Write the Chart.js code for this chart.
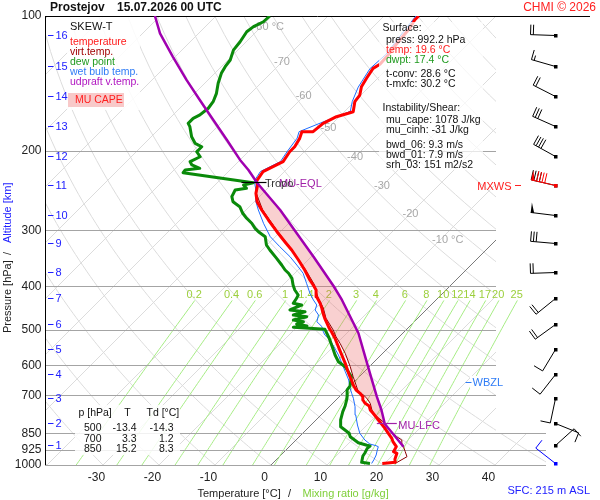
<!DOCTYPE html>
<html>
<head>
<meta charset="utf-8">
<script src="https://cdn.jsdelivr.net/npm/chart.js@4.4.1/dist/chart.umd.min.js"></script>
<style>html,body{margin:0;padding:0;background:#fff}canvas{display:block}</style>
</head>
<body>
<canvas id="c" width="600" height="500"></canvas>
<script>
// sounding Prostejov 15.07.2026 00 UTC
const tempP = [992.2,986,971,942,934,910,887,872,850,828.5,800.9,767.1,754.2,738.9,728.8,716.5,704.5,692.3,680.7,663.5,646.7,630.3,614.4,593.6,568.9,545.1,522.2,504.8,496.1,483.5,471.3,459.3,447.7,436.4,421.9,407.6,397.3,387.2,367.9,349.5,332.0,318.2,302.3,284.7,270.4,259.2,248.3,237.9,233.1,222.2,216.6,211.1,200.6,195.5,187.3,181.0,181.0,173.4,167.6,164.7,163.4,155.2,150.0,143.7,137.6,130.8,128.1,122.1,118.0,113.1,106.5,102.1,100];
const tempT = [19.6,21.7,21.1,20.4,19.5,19.1,17.6,16.8,15.3,13.8,11.7,9.0,7.9,7.0,5.8,4.8,4.2,3.1,1.8,0.4,-0.8,-2.1,-3.3,-4.9,-7.0,-9.1,-11.2,-13.0,-14.0,-15.3,-16.6,-17.8,-18.9,-20.1,-21.9,-23.2,-24.6,-26.1,-28.8,-31.7,-34.7,-37.4,-40.6,-44.2,-47.2,-49.5,-51.2,-52.4,-53.3,-53.8,-52.9,-52.0,-52.6,-52.6,-53.2,-54.0,-52.0,-51.7,-50.5,-49.0,-48.4,-49.9,-50.2,-51.4,-52.0,-52.6,-52.1,-52.3,-52.6,-52.9,-53.2,-53.8,-53.8];

const dewP = [992.2,986.2,954.9,938.9,917.9,907.2,903.9,891.9,865.0,850,821.7,793.9,760.8,738.9,716.5,700,680.7,666.9,635.9,604.1,588.8,568.9,549.7,521.4,498.6,493.5,490.2,485.2,479.6,475.4,467.4,463.4,455.6,451.6,440.2,436.4,425.3,418.2,407.6,397.3,383.9,374.1,367.9,358.6,346.5,332.0,323.6,310.1,302.3,297.1,289.5,282.2,275.0,265.9,259.2,252.6,244.1,241.9,237.9,235.1,223.3,220.3,218.4,214.7,211.1,205.8,200.6,195.5,192.1,185.7,176.4,173.4,169.0,166.1,160.5,155.2,148.7,141.2,134.2,129.7,125.3,119.1,114.1,108.4,105.6,103.0,100];
const dewT = [17.4,15.7,14.8,14.6,14.2,14.3,13.6,11.6,9.1,8.3,5.6,4.4,3.3,2.7,1.9,1.2,0.2,0.0,-1.4,-4.3,-6.4,-8.2,-9.8,-12.3,-14.6,-20.6,-18.4,-20.6,-19.8,-21.9,-20.1,-22.8,-21.3,-24.3,-23.1,-24.9,-25.2,-25.5,-27.0,-28.2,-29.6,-31.1,-32.3,-33.8,-35.9,-38.6,-40.1,-41.8,-43.9,-45.1,-46.6,-48.4,-50.0,-51.7,-53.8,-54.9,-55.5,-53.8,-54.9,-53.6,-67.9,-68.0,-65.7,-67.7,-68.6,-67.7,-69.2,-69.2,-71.0,-72.8,-74.9,-75.8,-75.8,-75.2,-74.9,-75.2,-76.1,-77.6,-78.8,-79.3,-79.6,-80.8,-81.1,-81.7,-81.4,-80.5,-80.4];

const virtP = [992.2,958.3,934.1,910.5,894.7,879.7,865.0,835.7,800.9,773.8,754.2,728.8,710.3,698.4,686.7,663.5,635.9,604.1,563.9,535.8,517.9,500.4,471,447,422,397,368,332,302,270,248,236];
const virtT = [21.9,22.8,21.6,20.4,19.5,18.9,17.4,15.0,12.3,9.6,8.2,6.7,5.2,4.0,2.5,0.9,-1.1,-3.4,-6.7,-9.4,-11.3,-13.0,-16.4,-18.7,-21.7,-24.4,-28.6,-34.6,-40.5,-47.1,-51.2,-52.5];

const wetP = [992.2,971.2,950,926,910.5,905.7,897.9,879.7,850,814.6,773.8,741.6,710.3,692.3,671.3,646.7,619.7,593.6,568.9,545.1,526.8,513.4,500.4,491.9,479.6,463.4,451.6,440.2,429.0,414.6,393.8,374.1,358.6,343.6,326.5,310.1,289.5,270.4,259.2,244.1,233,222,211,200,187,181,173,165,163,155,144,131,122,113,100];
const wetT = [17.7,17.4,17.0,16.3,15.9,15.3,13.9,12.3,10.2,8.3,6.2,4.6,2.8,1.6,0.2,-1.3,-3.4,-5.5,-7.6,-9.9,-11.8,-13.6,-14.9,-15.6,-17.4,-18.3,-19.8,-20.4,-21.9,-23.7,-26.1,-28.5,-31.1,-33.8,-37.4,-40.9,-44.5,-47.8,-49.7,-51.8,-53.7,-54.3,-52.5,-53.1,-53.7,-54.5,-52.2,-49.6,-49.0,-50.4,-51.9,-53.1,-52.8,-53.4,-54.3];

// most unstable parcel (virtual temperature)
const parcelP = [910.5,857.4,810.3,754.2,704.5,624.8,563.9,508.9,429.0,399.3,343.6,298.6,270.4,235.1,220.3,209.2,188.9,170.5,153.8,138.9,123.3,109.3,100];
const parcelT = [20.4,16.6,13.0,9.9,6.7,1.3,-3.3,-7.9,-16.8,-20.8,-29.6,-38.0,-43.9,-52.9,-56.7,-60.0,-65.9,-71.9,-77.9,-83.8,-90.4,-96.9,-100.9];
const lfcP = 810.3, eqlP = 235.1, tropoP = 233.1, tropoT = -53.3, wbzlP = 655;

// altitude marks [km] and the wind at each of them
const altKm = [16,15,14,13,12,11,10,9,8,7,6,5,4,3,2,1];
const altP = [110.5,129.2,150.7,175.6,204.6,238.5,278,321,372.5,425.5,486,552.5,628,709.2,805,904];
const windDir = [272,286,297,294,299,283,277,275,268,231,234,211,218,192,112,48];
const windSpd = [20,15,20,30,40,40,50,30,20,20,20,10,10,10,10,10];
const sfcWind = {p: 992.2, dir: 308, spd: 10};
const mxws = {p: 238.5, dir: 283, spd: 90};

const pressTicks = [100,200,300,400,500,600,700,850,925,1000];
const tempTicks = [-30,-20,-10,0,10,20,30,40];
const mixRatios = [0.2,0.4,0.6,1,1.4,2,3,4,6,8,10,12,14,17,20,25];
const mixLabels = ['0.2','0.4','0.6','1','1.4','2','3','4','6','8','10','12','14','17','20','25'];
const isoLabT = [-80,-70,-60,-50,-40,-30,-20,-10];
const isoLabP = [106,126.6,151,177.2,206,239.1,275.3,315.3];

const tabP = [500,700,850];
const tabT = [-13.4,3.3,15.2];
const tabTd = [-14.3,1.2,8.3];

const SKEW = 34.82;      // degC added per unit of ln(1000/p)
const PANEL_R = 496;     // right edge of the upper part of the diagram
const F = '"Liberation Sans", Arial, sans-serif';

function skew(p, t) { return t + SKEW * Math.log(1000 / p); }
function pts(P, T) { return P.map((p, i) => ({x: skew(p, T[i]), y: p})); }
function satT(w, p) {
    const e = w * p / (622 + w);
    const l = Math.log(e / 6.112);
    return 243.5 * l / (17.67 - l);
}

function txt(ctx, s, x, y, col, font, align) {
    ctx.fillStyle = col;
    ctx.font = font || ('10.5px ' + F);
    ctx.textAlign = align || 'left';
    ctx.textBaseline = 'middle';
    ctx.fillText(s, x, y);
}

function barb(ctx, x0, y0, dir, spd, col) {
    const r = dir * Math.PI / 180;
    const ux = Math.sin(r), uy = -Math.cos(r);
    const fx = -uy, fy = ux;
    const L = 25;
    ctx.strokeStyle = col;
    ctx.fillStyle = col;
    ctx.lineWidth = 1;
    ctx.beginPath();
    ctx.moveTo(x0, y0);
    ctx.lineTo(x0 + ux * L, y0 + uy * L);
    ctx.stroke();
    ctx.fillRect(x0 - 1.5, y0 - 1.5, 3.5, 3.5);
    let s = L, v = Math.round(spd / 5) * 5;
    while (v >= 50) {
        ctx.beginPath();
        ctx.moveTo(x0 + ux * s, y0 + uy * s);
        ctx.lineTo(x0 + ux * s + fx * 10, y0 + uy * s + fy * 10);
        ctx.lineTo(x0 + ux * (s - 3.5), y0 + uy * (s - 3.5));
        ctx.closePath();
        ctx.fill();
        s -= 5.5; v -= 50;
    }
    while (v >= 10) {
        ctx.beginPath();
        ctx.moveTo(x0 + ux * s, y0 + uy * s);
        ctx.lineTo(x0 + ux * s + fx * 10, y0 + uy * s + fy * 10);
        ctx.stroke();
        s -= 2.8; v -= 10;
    }
    if (v >= 5) {
        if (s === L) s -= 2.8;
        ctx.beginPath();
        ctx.moveTo(x0 + ux * s, y0 + uy * s);
        ctx.lineTo(x0 + ux * s + fx * 5, y0 + uy * s + fy * 5);
        ctx.stroke();
    }
}

// background: isotherms, dry adiabats, isobars, mixing ratio lines, CAPE area
const gridPlugin = {
    id: 'skewGrid',
    beforeDatasetsDraw(chart) {
        const {ctx, chartArea: a, scales} = chart;
        const xs = scales.x, ys = scales.y;
        const X = (p, t) => xs.getPixelForValue(skew(p, t));
        const Y = p => ys.getPixelForValue(p);
        const yLow = Y(850);

        ctx.save();
        ctx.beginPath();
        ctx.rect(a.left, a.top, PANEL_R - a.left, a.bottom - a.top);
        ctx.rect(PANEL_R, yLow, a.right - PANEL_R, a.bottom - yLow);
        ctx.clip();
        ctx.lineWidth = 1;
        ctx.strokeStyle = '#dcdcdc';
        for (let t = -140; t <= 50; t += 10) {
            ctx.beginPath();
            ctx.moveTo(X(1000, t), Y(1000));
            ctx.lineTo(X(100, t), Y(100));
            ctx.stroke();
        }
        for (let th = -40; th <= 180; th += 10) {
            ctx.beginPath();
            for (let p = 1000; p >= 100; p -= 10) {
                const t = (th + 273.15) * Math.pow(p / 1000, 0.2857) - 273.15;
                if (p === 1000) ctx.moveTo(X(p, t), Y(p)); else ctx.lineTo(X(p, t), Y(p));
            }
            ctx.stroke();
        }
        ctx.strokeStyle = '#7a7a7a';
        ctx.beginPath();
        ctx.moveTo(X(1000, 0), Y(1000));
        ctx.lineTo(X(100, 0), Y(100));
        ctx.stroke();
        ctx.restore();

        // isotherm labels
        isoLabT.forEach((t, i) => {
            const x = X(isoLabP[i], t), y = Y(isoLabP[i]);
            ctx.font = '11px ' + F;
            const w = ctx.measureText(String(t)).width;
            const s = (t === -80 || t === -10) ? t + ' \u00b0C' : String(t);
            txt(ctx, s, x - w / 2, y, '#a8a8a8', '11px ' + F);
        });

        // mixing ratio lines
        ctx.save();
        ctx.beginPath();
        ctx.rect(a.left, a.top, a.right - a.left, a.bottom - a.top);
        ctx.clip();
        ctx.strokeStyle = '#a6ec84';
        ctx.lineWidth = 1;
        mixRatios.forEach((w, i) => {
            ctx.beginPath();
            for (let p = 1000; p >= 429; p -= 9.5) {
                const t = satT(w, p);
                if (p === 1000) ctx.moveTo(X(p, t), Y(p)); else ctx.lineTo(X(p, t), Y(p));
            }
            ctx.stroke();
            txt(ctx, mixLabels[i], X(429, satT(w, 429)) - 1, Y(418), '#9ccf3c', '11px ' + F, 'center');
        });
        ctx.restore();

        // isobars
        ctx.strokeStyle = '#a4a4a4';
        ctx.lineWidth = 1;
        pressTicks.forEach(p => {
            if (p === 100) return;
            const y = Math.round(Y(p)) + 0.5;
            ctx.beginPath();
            ctx.moveTo(a.left, y);
            ctx.lineTo(p >= 850 ? a.right : PANEL_R, y);
            ctx.stroke();
        });
        ctx.strokeStyle = '#000';
        ctx.beginPath();
        ctx.moveTo(a.left, Math.round(Y(100)) + 0.5);
        ctx.lineTo(590, Math.round(Y(100)) + 0.5);
        ctx.moveTo(a.left + 0.5, a.top);
        ctx.lineTo(a.left + 0.5, a.bottom);
        ctx.stroke();

        // MU CAPE area between the parcel and the environment
        const env = [];
        virtP.forEach((p, i) => { if (p >= 500 && p < lfcP) env.push([p, virtT[i]]); });
        tempP.forEach((p, i) => { if (p < 500 && p > eqlP) env.push([p, tempT[i]]); });
        env.sort((m, n) => m[0] - n[0]);
        ctx.fillStyle = 'rgba(235,100,100,0.3)';
        ctx.beginPath();
        let first = true;
        parcelP.forEach((p, i) => {
            if (p <= lfcP && p >= eqlP) {
                const x = X(p, parcelT[i]), y = Y(p);
                if (first) { ctx.moveTo(x, y); first = false; } else ctx.lineTo(x, y);
            }
        });
        env.forEach(([p, t]) => ctx.lineTo(X(p, t), Y(p)));
        ctx.closePath();
        ctx.fill();
    }
};

// boxes, labels, axes text and wind barbs
const overlayPlugin = {
    id: 'overlay',
    afterDatasetsDraw(chart) {
        const {ctx, chartArea: a, scales} = chart;
        const xs = scales.x, ys = scales.y;
        const X = (p, t) => xs.getPixelForValue(skew(p, t));
        const Y = p => ys.getPixelForValue(p);
        ctx.save();

        // legend
        ctx.fillStyle = 'rgba(255,255,255,0.88)';
        ctx.fillRect(67, 17, 73, 93);
        txt(ctx, 'SKEW-T', 70, 26.5, '#111', '11px ' + F);
        [['temperature', '#ff1a1a'], ['virt.temp.', '#a00000'], ['dew point', '#1f9a1f'],
         ['wet bulb temp.', '#2f7cf6'], ['udpraft v.temp.', '#b014c0']].forEach(([s, c], i) => {
            txt(ctx, s, 70, 41.7 + i * 10, c);
        });
        ctx.fillStyle = '#f8c9c9';
        ctx.fillRect(68, 93, 56, 14);
        txt(ctx, 'MU CAPE', 75, 100.5, '#ff2020');

        // surface / instability box
        ctx.fillStyle = 'rgba(255,255,255,0.72)';
        ctx.fillRect(379, 22, 104, 148);
        [['Surface:', 382.5, 28.3, '#111'], ['press: 992.2 hPa', 386, 40, '#111'],
         ['temp: 19.6 \u00b0C', 386, 50, '#ff2020'], ['dwpt: 17.4 \u00b0C', 386, 60, '#1f9a1f'],
         ['t-conv: 28.6 \u00b0C', 386, 74, '#111'], ['t-mxfc: 30.2 \u00b0C', 386, 84, '#111'],
         ['Instability/Shear:', 382.5, 108, '#111'], ['mu_cape: 1078 J/kg', 386, 120, '#111'],
         ['mu_cinh: -31 J/kg', 386, 130, '#111'], ['bwd_06: 9.3 m/s', 386, 145, '#111'],
         ['bwd_01: 7.9 m/s', 386, 155, '#111'], ['srh_03: 151 m2/s2', 386, 165, '#111']
        ].forEach(([s, x, y, c]) => txt(ctx, s, x, y, c));

        // level table
        ctx.fillStyle = 'rgba(255,255,255,0.85)';
        ctx.fillRect(75, 405, 105, 50);
        txt(ctx, 'p [hPa]', 78.5, 413.5, '#111');
        txt(ctx, 'T', 127.5, 413.5, '#111', null, 'center');
        txt(ctx, 'Td [\u00b0C]', 146.5, 413.5, '#111');
        tabP.forEach((p, i) => {
            const y = 428.5 + i * 10.5;
            txt(ctx, String(p), 101.5, y, '#111', null, 'right');
            txt(ctx, tabT[i].toFixed(1), 136.5, y, '#111', null, 'right');
            txt(ctx, tabTd[i].toFixed(1), 173.5, y, '#111', null, 'right');
        });

        // tropopause, EQL, LFC, WBZL, MXWS markers
        const xt = X(tropoP, tropoT), yt = Math.round(Y(tropoP)) + 1.5;
        ctx.strokeStyle = '#000';
        ctx.lineWidth = 1.2;
        ctx.beginPath(); ctx.moveTo(xt - 15, yt); ctx.lineTo(xt + 10, yt); ctx.stroke();
        txt(ctx, 'MU-EQL', xt + 22.5, yt + 1.5, '#a020a8', '11px ' + F);
        txt(ctx, 'Tropo', xt + 8.5, yt + 1.5, '#333', '11px ' + F);

        const xl = X(lfcP, parcelT[parcelP.indexOf(lfcP)]), yl = Math.round(Y(lfcP)) - 0.5;
        ctx.strokeStyle = '#a020a8';
        ctx.beginPath(); ctx.moveTo(xl - 8, yl); ctx.lineTo(xl + 12, yl); ctx.stroke();
        txt(ctx, 'MU-LFC', xl + 13.5, yl + 2, '#a020a8', '11px ' + F);

        const yw = Y(wbzlP);
        ctx.fillStyle = '#fff';
        ctx.fillRect(470, yw - 6.5, 38, 13);
        ctx.strokeStyle = '#2f7cf6';
        ctx.lineWidth = 1;
        ctx.beginPath(); ctx.moveTo(465.5, yw); ctx.lineTo(471.5, yw); ctx.stroke();
        txt(ctx, 'WBZL', 472.5, yw + 0.5, '#2f7cf6', '11px ' + F);

        const ym = Y(mxws.p);
        txt(ctx, 'MXWS', 511.5, ym + 1, '#ff2020', '11px ' + F, 'right');
        ctx.strokeStyle = '#ff2020';
        ctx.beginPath(); ctx.moveTo(515, ym); ctx.lineTo(521, ym); ctx.stroke();

        // pressure and altitude labels
        pressTicks.forEach(p => txt(ctx, String(p), 41.5, Y(p), '#222', '12px ' + F, 'right'));
        ctx.strokeStyle = '#2020ff';
        ctx.lineWidth = 1;
        altP.forEach((p, i) => {
            const y = Math.round(Y(p)) + 0.5;
            ctx.beginPath(); ctx.moveTo(48, y); ctx.lineTo(53.5, y); ctx.stroke();
            txt(ctx, String(altKm[i]), 55.5, y + 0.5, '#2020ff', '11px ' + F);
        });

        // temperature labels sit where the isotherms meet the label row
        tempTicks.forEach(t => txt(ctx, String(t), xs.getPixelForValue(t) - 6.5, 478, '#222', '12px ' + F, 'center'));

        // axis titles
        txt(ctx, 'Temperature [\u00b0C]', 197.5, 493.5, '#222', '11px ' + F);
        txt(ctx, '/', 288, 493.5, '#222', '11px ' + F);
        txt(ctx, 'Mixing ratio [g/kg]', 302.5, 493.5, '#7fcf3a', '11px ' + F);
        txt(ctx, 'SFC: 215 m ASL', 590, 491, '#2020ff', '11px ' + F, 'right');

        ctx.save();
        ctx.translate(7.5, 333);
        ctx.rotate(-Math.PI / 2);
        txt(ctx, 'Pressure [hPa]', 0, 0, '#222', '11px ' + F);
        txt(ctx, '/', 78, 0, '#222', '11px ' + F);
        txt(ctx, 'Altitude [km]', 90, 0, '#2020ff', '11px ' + F);
        ctx.restore();

        // title
        txt(ctx, 'Prostejov', 50, 7.5, '#111', 'bold 12px ' + F);
        txt(ctx, '15.07.2026 00 UTC', 117, 7.5, '#111', 'bold 12px ' + F);
        txt(ctx, 'CHMI \u00a9 2026', 596, 7.5, '#ff2020', '12px ' + F, 'right');

        // wind barbs
        const bx = 555.5;
        altP.forEach((p, i) => barb(ctx, bx, Math.round(Y(p)) + 0.5, windDir[i], windSpd[i], '#000'));
        barb(ctx, bx, Math.round(Y(mxws.p)) + 0.5, mxws.dir, mxws.spd, '#ff0000');
        barb(ctx, bx, Math.round(Y(sfcWind.p)) + 0.5, sfcWind.dir, sfcWind.spd, '#0000ff');

        ctx.restore();
    }
};

new Chart(document.getElementById('c'), {
    type: 'scatter',
    data: {
        datasets: [
            {label: 'udpraft v.temp.', data: pts(parcelP, parcelT), borderColor: '#a000b0', borderWidth: 2.5, order: 0},
            {label: 'temperature', data: pts(tempP, tempT), borderColor: '#ff0000', borderWidth: 3, order: 1},
            {label: 'virt.temp.', data: pts(virtP, virtT), borderColor: '#8b0000', borderWidth: 1, order: 2},
            {label: 'dew point', data: pts(dewP, dewT), borderColor: '#0a8a0a', borderWidth: 3, order: 3},
            {label: 'wet bulb temp.', data: pts(wetP, wetT), borderColor: '#1e6cff', borderWidth: 1, order: 4}
        ]
    },
    options: {
        responsive: false,
        animation: false,
        devicePixelRatio: 1,
        showLine: true,
        layout: {padding: {left: 45, right: 54, top: 16, bottom: 35}},
        elements: {point: {radius: 0, hoverRadius: 0}, line: {tension: 0, fill: false, borderJoinStyle: 'round'}},
        scales: {
            x: {type: 'linear', min: -40.357, max: 49.107, display: false},
            y: {type: 'logarithmic', min: 100, max: 1000, reverse: true, display: false}
        },
        plugins: {legend: {display: false}, tooltip: {enabled: false}}
    },
    plugins: [gridPlugin, overlayPlugin]
});
</script>
</body>
</html>
